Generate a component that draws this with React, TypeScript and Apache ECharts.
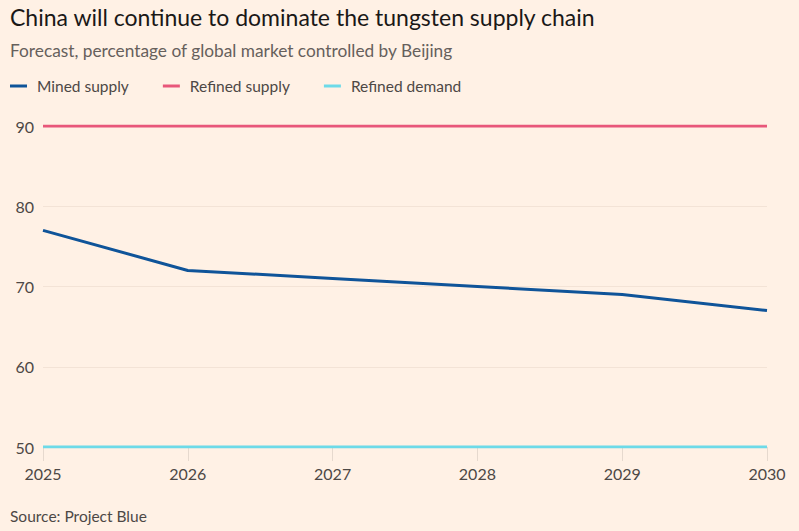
import React, { useEffect, useRef } from "react";
import * as echarts from "echarts";

const years = ["2025", "2026", "2027", "2028", "2029", "2030"];
const minedSupply = [77, 72, 71, 70, 69, 67];
const refinedSupply = [90, 90, 90, 90, 90, 90];
const refinedDemand = [50, 50, 50, 50, 50, 50];

const FONT = "Lato, 'Noto Sans', sans-serif";

export default function App() {
  const ref = useRef<HTMLDivElement>(null);
  useEffect(() => {
    if (!ref.current) return;
    const chart = echarts.init(ref.current, null, { renderer: "svg" });
    chart.setOption({
      animation: false,
      backgroundColor: "#FFF1E5",
      textStyle: { fontFamily: FONT },
      title: [
        {
          text: "China will continue to dominate the tungsten supply chain",
          left: 10,
          top: 5,
          padding: 0,
          textStyle: { fontSize: 23, fontWeight: "normal", color: "#1a1817", fontFamily: FONT },
        },
        {
          text: "Forecast, percentage of global market controlled by Beijing",
          left: 10,
          top: 42,
          padding: 0,
          textStyle: { fontSize: 17.3, fontWeight: "normal", color: "#66605C", fontFamily: FONT },
        },
        {
          text: "Source: Project Blue",
          left: 10,
          top: 508,
          padding: 0,
          textStyle: { fontSize: 15.5, fontWeight: "normal", color: "#4d4845", fontFamily: FONT },
        },
      ],
      legend: {
        left: 10,
        top: 78,
        padding: 0,
        icon: "rect",
        itemWidth: 17,
        itemHeight: 3,
        itemGap: 34,
        textStyle: { fontSize: 15.5, color: "#4d4845", fontFamily: FONT, padding: [0, 0, 0, 5] },
        data: ["Mined supply", "Refined supply", "Refined demand"],
      },
      grid: { left: 43, right: 32, top: 126, bottom: 84 },
      xAxis: {
        type: "category",
        data: years,
        boundaryGap: false,
        axisLine: { show: false },
        axisTick: { show: true, alignWithLabel: true, length: 14, lineStyle: { color: "#e6d9ce" } },
        axisLabel: { fontSize: 16, color: "#4d4845", margin: 18, fontFamily: FONT },
        splitLine: { show: false },
      },
      yAxis: {
        type: "value",
        min: 50,
        max: 90,
        interval: 10,
        axisLine: { show: false },
        axisTick: { show: false },
        axisLabel: { fontSize: 16, color: "#4d4845", margin: 9, fontFamily: FONT },
        splitLine: { show: true, lineStyle: { color: "#f3e3d6", width: 1 } },
      },
      series: [
        {
          name: "Mined supply",
          type: "line",
          data: minedSupply,
          symbol: "none",
          lineStyle: { color: "#0F5499", width: 3 },
          itemStyle: { color: "#0F5499" },
        },
        {
          name: "Refined supply",
          type: "line",
          data: refinedSupply,
          symbol: "none",
          lineStyle: { color: "#E8577A", width: 3 },
          itemStyle: { color: "#E8577A" },
        },
        {
          name: "Refined demand",
          type: "line",
          data: refinedDemand,
          symbol: "none",
          lineStyle: { color: "#6DDAE8", width: 3 },
          itemStyle: { color: "#6DDAE8" },
        },
      ],
    });
    return () => chart.dispose();
  }, []);
  return (
    <div
      ref={ref}
      style={{ width: 799, height: 531, position: "fixed", left: 0, top: 0 }}
    />
  );
}
